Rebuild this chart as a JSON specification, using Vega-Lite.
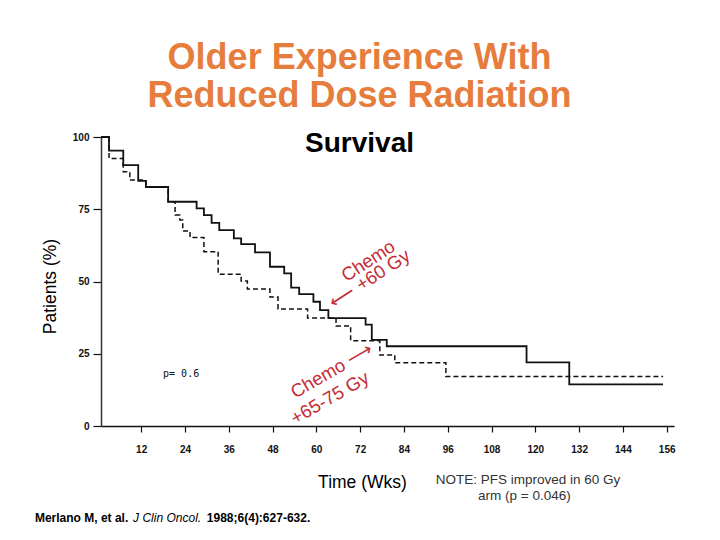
{
  "$schema": "https://vega.github.io/schema/vega-lite/v6.json",
  "width": 573,
  "height": 289,
  "autosize": "none",
  "padding": {"left": 101, "top": 137, "right": 46, "bottom": 114},
  "background": "white",
  "config": {"view": {"stroke": null}, "font": "Liberation Sans"},
  "title": {
    "text": ["Older Experience With", "Reduced Dose Radiation"],
    "subtitle": "Survival",
    "font": "Liberation Sans",
    "fontSize": 36,
    "fontWeight": "bold",
    "color": "#E67D3C",
    "lineHeight": 38,
    "subtitleFont": "Liberation Sans",
    "subtitleFontSize": 28,
    "subtitleFontWeight": "bold",
    "subtitleColor": "#000000",
    "subtitlePadding": 15,
    "anchor": "middle",
    "dx": -28,
    "offset": -27
  },
  "data": {
    "values": [
      {"series": "Chemo + 60 Gy", "week": 1, "pct": 100},
      {"series": "Chemo + 60 Gy", "week": 3.2, "pct": 95.3},
      {"series": "Chemo + 60 Gy", "week": 7.1, "pct": 90.3},
      {"series": "Chemo + 60 Gy", "week": 11.2, "pct": 84.8},
      {"series": "Chemo + 60 Gy", "week": 13.3, "pct": 82.7},
      {"series": "Chemo + 60 Gy", "week": 19.4, "pct": 77.6},
      {"series": "Chemo + 60 Gy", "week": 27.2, "pct": 75.3},
      {"series": "Chemo + 60 Gy", "week": 29.2, "pct": 73.0},
      {"series": "Chemo + 60 Gy", "week": 31.3, "pct": 70.3},
      {"series": "Chemo + 60 Gy", "week": 33.4, "pct": 67.8},
      {"series": "Chemo + 60 Gy", "week": 37.4, "pct": 64.9},
      {"series": "Chemo + 60 Gy", "week": 39.4, "pct": 62.9},
      {"series": "Chemo + 60 Gy", "week": 43.2, "pct": 60.1},
      {"series": "Chemo + 60 Gy", "week": 47.3, "pct": 55.1},
      {"series": "Chemo + 60 Gy", "week": 51.2, "pct": 52.8},
      {"series": "Chemo + 60 Gy", "week": 53.1, "pct": 47.9},
      {"series": "Chemo + 60 Gy", "week": 55.3, "pct": 45.6},
      {"series": "Chemo + 60 Gy", "week": 59.2, "pct": 43.0},
      {"series": "Chemo + 60 Gy", "week": 61.0, "pct": 40.1},
      {"series": "Chemo + 60 Gy", "week": 63.3, "pct": 37.3},
      {"series": "Chemo + 60 Gy", "week": 73.5, "pct": 35.1},
      {"series": "Chemo + 60 Gy", "week": 75.2, "pct": 29.8},
      {"series": "Chemo + 60 Gy", "week": 79.3, "pct": 27.6},
      {"series": "Chemo + 60 Gy", "week": 117.6, "pct": 22.0},
      {"series": "Chemo + 60 Gy", "week": 129.3, "pct": 14.4},
      {"series": "Chemo + 60 Gy", "week": 155.0, "pct": 14.4},
      {"series": "Chemo + 65-75 Gy", "week": 1, "pct": 100},
      {"series": "Chemo + 65-75 Gy", "week": 3.2, "pct": 92.6},
      {"series": "Chemo + 65-75 Gy", "week": 7.1, "pct": 88.0},
      {"series": "Chemo + 65-75 Gy", "week": 8.9, "pct": 85.1},
      {"series": "Chemo + 65-75 Gy", "week": 13.3, "pct": 82.7},
      {"series": "Chemo + 65-75 Gy", "week": 19.4, "pct": 77.6},
      {"series": "Chemo + 65-75 Gy", "week": 21.3, "pct": 73.0},
      {"series": "Chemo + 65-75 Gy", "week": 22.6, "pct": 71.3},
      {"series": "Chemo + 65-75 Gy", "week": 23.4, "pct": 67.5},
      {"series": "Chemo + 65-75 Gy", "week": 25.4, "pct": 65.2},
      {"series": "Chemo + 65-75 Gy", "week": 29.2, "pct": 60.3},
      {"series": "Chemo + 65-75 Gy", "week": 33.1, "pct": 52.5},
      {"series": "Chemo + 65-75 Gy", "week": 39.4, "pct": 50.2},
      {"series": "Chemo + 65-75 Gy", "week": 41.1, "pct": 47.4},
      {"series": "Chemo + 65-75 Gy", "week": 47.3, "pct": 44.6},
      {"series": "Chemo + 65-75 Gy", "week": 49.5, "pct": 40.5},
      {"series": "Chemo + 65-75 Gy", "week": 57.6, "pct": 37.4},
      {"series": "Chemo + 65-75 Gy", "week": 65.4, "pct": 34.6},
      {"series": "Chemo + 65-75 Gy", "week": 69.4, "pct": 29.5},
      {"series": "Chemo + 65-75 Gy", "week": 77.4, "pct": 24.6},
      {"series": "Chemo + 65-75 Gy", "week": 81.5, "pct": 21.9},
      {"series": "Chemo + 65-75 Gy", "week": 95.5, "pct": 17.1},
      {"series": "Chemo + 65-75 Gy", "week": 155.0, "pct": 17.1}
    ]
  },
  "layer": [
    {
      "transform": [{"filter": "datum.series === 'Chemo + 60 Gy'"}],
      "mark": {"type": "line", "interpolate": "step-after", "color": "#111111", "strokeWidth": 1.8},
      "encoding": {
        "x": {
          "field": "week", "type": "quantitative",
          "scale": {"domain": [1, 158], "nice": false, "zero": false},
          "axis": {
            "values": [12, 24, 36, 48, 60, 72, 84, 96, 108, 120, 132, 144, 156],
            "grid": false,
            "domainColor": "#111111", "domainWidth": 1.5,
            "tickColor": "#111111", "tickSize": 6, "tickWidth": 1.2,
            "labelFont": "Liberation Sans", "labelFontSize": 10, "labelFontWeight": "bold",
            "labelColor": "#111111", "labelPadding": 12,
            "title": "Time (Wks)",
            "titleFont": "Liberation Sans", "titleFontSize": 17.5, "titleFontWeight": "normal",
            "titleColor": "#000000",
            "titleX": 261, "titleY": 56, "titleBaseline": "middle", "titleAlign": "center"
          }
        },
        "y": {
          "field": "pct", "type": "quantitative",
          "scale": {"domain": [0, 100], "nice": false},
          "axis": {
            "values": [0, 25, 50, 75, 100],
            "grid": false,
            "domainColor": "#333333", "domainWidth": 1.5,
            "tickColor": "#111111", "tickSize": 8, "tickWidth": 1.2,
            "labelFont": "Liberation Sans", "labelFontSize": 10, "labelFontWeight": "bold",
            "labelColor": "#111111", "labelPadding": 4,
            "title": "Patients (%)",
            "titleFont": "Liberation Sans", "titleFontSize": 17.5, "titleFontWeight": "normal",
            "titleColor": "#000000",
            "titleAngle": -90, "titleX": -51, "titleY": 149, "titleBaseline": "middle", "titleAlign": "center"
          }
        }
      }
    },
    {
      "transform": [{"filter": "datum.series === 'Chemo + 65-75 Gy'"}],
      "mark": {"type": "line", "interpolate": "step-after", "color": "#111111", "strokeWidth": 1.5, "strokeDash": [5, 3]},
      "encoding": {
        "x": {"field": "week", "type": "quantitative"},
        "y": {"field": "pct", "type": "quantitative"}
      }
    },
    {
      "data": {"values": [{"label": "p= 0.6"}]},
      "mark": {"type": "text", "font": "DejaVu Sans Mono", "fontSize": 10, "color": "#111111", "align": "left", "baseline": "middle"},
      "encoding": {"x": {"datum": 18}, "y": {"datum": 18}, "text": {"field": "label"}}
    },
    {
      "data": {"values": [{"label": "Chemo"}]},
      "mark": {"type": "text", "fontSize": 18.5, "color": "#C42B34", "angle": -33, "align": "center", "baseline": "middle"},
      "encoding": {"x": {"datum": 74.2}, "y": {"datum": 57.1}, "text": {"field": "label"}}
    },
    {
      "data": {"values": [{"label": "⟵ +60 Gy"}]},
      "mark": {"type": "text", "fontSize": 18.5, "color": "#C42B34", "angle": -33, "align": "center", "baseline": "middle"},
      "encoding": {"x": {"datum": 74.6}, "y": {"datum": 50.9}, "text": {"field": "label"}}
    },
    {
      "data": {"values": [{"label": "Chemo ⟶"}]},
      "mark": {"type": "text", "fontSize": 18.5, "color": "#C42B34", "angle": -30, "align": "center", "baseline": "middle"},
      "encoding": {"x": {"datum": 64.3}, "y": {"datum": 19.2}, "text": {"field": "label"}}
    },
    {
      "data": {"values": [{"label": "+65-75 Gy"}]},
      "mark": {"type": "text", "fontSize": 18.5, "color": "#C42B34", "angle": -30, "align": "center", "baseline": "middle"},
      "encoding": {"x": {"datum": 63.7}, "y": {"datum": 9.7}, "text": {"field": "label"}}
    },
    {
      "data": {"values": [{"label": "NOTE: PFS improved in 60 Gy"}]},
      "mark": {"type": "text", "fontSize": 13.5, "color": "#333333", "align": "center", "baseline": "middle"},
      "encoding": {"x": {"datum": 118}, "y": {"datum": -18.7}, "text": {"field": "label"}}
    },
    {
      "data": {"values": [{"label": "arm (p = 0.046)"}]},
      "mark": {"type": "text", "fontSize": 13.5, "color": "#333333", "align": "center", "baseline": "middle"},
      "encoding": {"x": {"datum": 117}, "y": {"datum": -24.2}, "text": {"field": "label"}}
    },
    {
      "data": {"values": [{"label": "Merlano M, et al."}]},
      "mark": {"type": "text", "fontSize": 12, "fontWeight": "bold", "color": "#000000", "align": "left", "baseline": "middle"},
      "encoding": {"x": {"datum": -17.1}, "y": {"datum": -31.8}, "text": {"field": "label"}}
    },
    {
      "data": {"values": [{"label": "J Clin Oncol."}]},
      "mark": {"type": "text", "fontSize": 12, "fontStyle": "italic", "color": "#000000", "align": "left", "baseline": "middle"},
      "encoding": {"x": {"datum": 9.8}, "y": {"datum": -31.8}, "text": {"field": "label"}}
    },
    {
      "data": {"values": [{"label": "1988;6(4):627-632."}]},
      "mark": {"type": "text", "fontSize": 12, "fontWeight": "bold", "color": "#000000", "align": "left", "baseline": "middle"},
      "encoding": {"x": {"datum": 30.0}, "y": {"datum": -31.8}, "text": {"field": "label"}}
    }
  ]
}
